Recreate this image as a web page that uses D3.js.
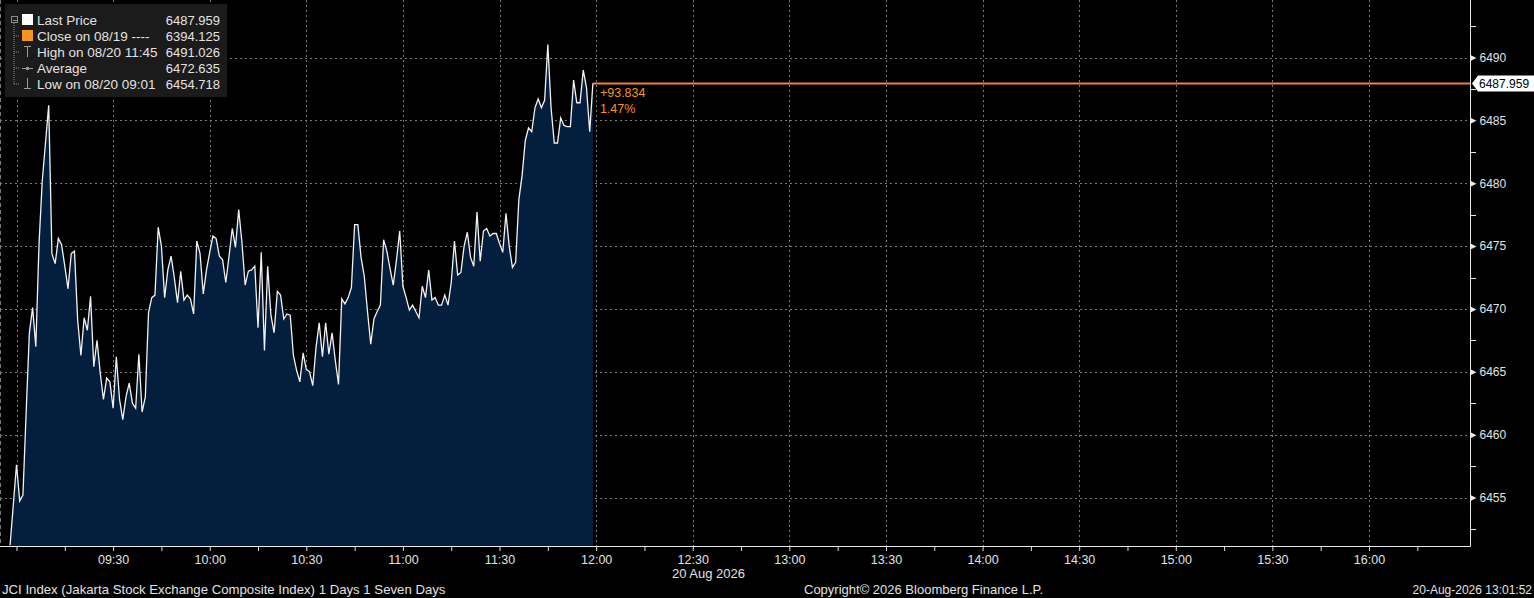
<!DOCTYPE html>
<html lang="en">

<head>
  <meta charset="UTF-8">
  <title>JCI Index</title>
  <style>
    body { margin: 0; background: #000; }
    text { font-family: 'Liberation Sans', Arial, sans-serif; }
  </style>
</head>

<body>
  <svg id="svg" width="1534" height="598"></svg>

  <script src="https://d3js.org/d3.v7.min.js"></script>
  <script>
    // 1-minute prices from 09:00 to 11:59
    const startTime = '09:00'
    const prices = [
      6457.6, 6454.718, 6455.2, 6461.8, 6468.1, 6470.1, 6467.0, 6475.2, 6480.2, 6483.2,
      6486.2, 6474.4, 6473.6, 6475.6, 6475.1, 6473.4, 6471.6, 6474.4, 6474.6, 6469.1,
      6466.3, 6469.3, 6468.3, 6471.0, 6465.4, 6467.5, 6464.9, 6462.8, 6464.5, 6464.2,
      6462.1, 6466.2, 6462.8, 6461.2, 6463.0, 6464.1, 6462.5, 6462.1, 6466.4, 6461.8,
      6463.0, 6469.7, 6470.9, 6471.1, 6476.5, 6475.0, 6470.9, 6473.1, 6474.2, 6472.5,
      6470.5, 6473.0, 6470.7, 6471.1, 6470.8, 6469.6, 6475.4, 6474.4, 6471.2, 6473.1,
      6474.5, 6475.8, 6475.6, 6474.2, 6473.9, 6472.1, 6474.2, 6476.4, 6474.9, 6477.9,
      6475.3, 6471.9, 6473.0, 6473.1, 6473.4, 6468.5, 6474.5, 6466.7, 6473.4, 6469.5,
      6468.1, 6471.4, 6471.1, 6469.2, 6469.6, 6469.5, 6466.3, 6465.1, 6464.2, 6466.5,
      6465.2, 6465.0, 6463.9, 6466.9, 6468.9, 6466.2, 6468.9, 6466.4, 6468.1, 6465.9,
      6464.0, 6470.8, 6470.4, 6470.9, 6471.7, 6476.7, 6476.7, 6474.1, 6472.6, 6469.8,
      6467.2, 6469.2, 6469.8, 6470.3, 6475.5, 6474.6, 6473.2, 6471.9, 6473.9, 6476.2,
      6471.8, 6470.9, 6469.9, 6470.3, 6469.8, 6469.3, 6471.8, 6470.9, 6473.1, 6470.7,
      6470.9, 6470.3, 6470.3, 6471.1, 6470.3, 6472.1, 6475.4, 6472.7, 6472.9, 6475.0,
      6476.1, 6474.1, 6473.4, 6477.7, 6473.8, 6476.2, 6476.4, 6475.8, 6476.0, 6476.0,
      6475.2, 6474.5, 6477.6, 6475.0, 6473.3, 6473.7, 6478.7, 6480.6, 6483.4, 6484.4,
      6484.1, 6486.0, 6486.7, 6486.0, 6486.6, 6491.026, 6486.0, 6483.2, 6483.2, 6485.2,
      6484.6, 6484.5, 6484.5, 6488.2, 6486.4, 6486.4, 6489.0, 6487.6, 6484.1, 6487.959
    ]
    // pre-open print
    const preOpen = { time: '08:58', value: 6451.2 }

    const legendLabels = ['Last Price', 'Close on 08/19 ----', 'High on 08/20 11:45', 'Average', 'Low on 08/20 09:01']
    const legendValues = ['6487.959', '6394.125', '6491.026', '6472.635', '6454.718']
    const lastPrice = 6487.959
    const changeLabels = ['+93.834', '1.47%']
    const yTicks = [6455, 6460, 6465, 6470, 6475, 6480, 6485, 6490]
    const yMinorTicks = [6452.5, 6457.5, 6462.5, 6467.5, 6472.5, 6477.5, 6482.5, 6487.5, 6492.5]
    const xLabels = ['09:30', '10:00', '10:30', '11:00', '11:30', '12:00', '12:30', '13:00',
      '13:30', '14:00', '14:30', '15:00', '15:30', '16:00']
    const dateLabel = '20 Aug 2026'
    const footerLeft = 'JCI Index (Jakarta Stock Exchange Composite Index) 1 Days 1 Seven Days'
    const footerMid = 'Copyright\u00a9 2026 Bloomberg Finance L.P.'
    const footerRight = '20-Aug-2026 13:01:52'

    const parseTime = d3.timeParse('%H:%M')
    const points = [{ time: parseTime(preOpen.time), value: preOpen.value }]
      .concat(prices.map((v, i) => ({ time: d3.timeMinute.offset(parseTime(startTime), i), value: v })))

    const W = 1534, plotRight = 1470, plotBottom = 546
    const textColor = '#e2e2e2'
    const gridColor = '#7a7a7a'
    const orange = '#f7941d'
    const priceLine = '#ee8437'

    const xScale = d3.scaleTime()
      .domain([parseTime('09:00'), parseTime('16:00')])
      .range([16.5, 1369])
    const yScale = d3.scaleLinear()
      .domain([6455, 6490])
      .range([497.5, 57.5])

    const svg = d3.select('#svg')
    svg.append('rect').attr('width', W).attr('height', 598).attr('fill', '#000')

    svg.append('clipPath').attr('id', 'plot')
      .append('rect').attr('x', 0).attr('y', 0).attr('width', plotRight).attr('height', plotBottom)

    // gridlines
    const gridTimes = d3.timeMinute.every(30).range(parseTime('09:00'), parseTime('16:01'))
    svg.append('g')
      .selectAll('line')
      .data(gridTimes)
      .enter()
      .append('line')
      .attr('x1', d => Math.round(xScale(d)) + 0.5)
      .attr('x2', d => Math.round(xScale(d)) + 0.5)
      .attr('y1', 0)
      .attr('y2', plotBottom)
      .attr('stroke', gridColor)
      .attr('stroke-dasharray', '2,3')
    svg.append('g')
      .selectAll('line')
      .data(yTicks)
      .enter()
      .append('line')
      .attr('x1', 0)
      .attr('x2', plotRight)
      .attr('y1', d => Math.round(yScale(d)) + 0.5)
      .attr('y2', d => Math.round(yScale(d)) + 0.5)
      .attr('stroke', gridColor)
      .attr('stroke-dasharray', '2,3')
    svg.append('line')
      .attr('x1', 0.5).attr('x2', 0.5).attr('y1', 0).attr('y2', plotBottom)
      .attr('stroke', gridColor).attr('stroke-dasharray', '4,3')

    // area + line
    const plot = svg.append('g').attr('clip-path', 'url(#plot)')
    plot.append('path')
      .datum(points)
      .attr('d', d3.area().x(d => xScale(d.time)).y0(plotBottom).y1(d => yScale(d.value)))
      .attr('fill', '#041f3d')
    plot.append('path')
      .datum(points)
      .attr('d', d3.line().x(d => xScale(d.time)).y(d => yScale(d.value)))
      .attr('fill', 'none')
      .attr('stroke', '#f2f2f2')
      .attr('stroke-width', 1.3)

    // last price line
    const last = points[points.length - 1]
    const ly = Math.round(yScale(lastPrice)) + 0.5
    svg.append('line')
      .attr('x1', xScale(last.time))
      .attr('x2', plotRight)
      .attr('y1', ly)
      .attr('y2', ly)
      .attr('stroke', priceLine)
      .attr('stroke-width', 1.8)
    svg.append('g')
      .selectAll('text')
      .data(changeLabels)
      .enter()
      .append('text')
      .text(d => d)
      .attr('x', xScale(last.time) + 7)
      .attr('y', (d, i) => ly + 13 + i * 16)
      .attr('fill', orange)
      .style('font-size', '12.5px')

    // x axis
    const xTickTimes = d3.timeMinute.every(15).range(parseTime('09:00'), parseTime('16:16'))
    const fmt = d3.timeFormat('%H:%M')
    const xAxis = svg.append('g')
      .attr('transform', `translate(0,${plotBottom})`)
      .call(d3.axisBottom(xScale)
        .tickValues(xTickTimes)
        .tickSize(5)
        .tickPadding(4)
        .tickFormat(d => xLabels.includes(fmt(d)) ? fmt(d) : ''))
    xAxis.select('.domain').remove()
    xAxis.selectAll('line').attr('stroke', '#ddd')
    xAxis.selectAll('text')
      .attr('fill', textColor)
      .style('font-family', "'Liberation Sans', Arial, sans-serif")
      .style('font-size', '12.5px')
    svg.append('text')
      .text(dateLabel)
      .attr('x', 672)
      .attr('y', 578)
      .attr('fill', textColor)
      .style('font-size', '13px')

    // frame
    svg.append('path')
      .attr('d', d3.line()([[0, plotBottom + 0.5], [plotRight + 0.5, plotBottom + 0.5], [plotRight + 0.5, 0]]))
      .attr('fill', 'none')
      .attr('stroke', '#e8e8e8')

    // y axis
    const yAxis = svg.append('g')
      .attr('transform', `translate(${plotRight + 0.5},0)`)
      .call(d3.axisRight(yScale)
        .tickValues(yTicks)
        .tickSize(0)
        .tickPadding(9)
        .tickFormat(d3.format('d')))
    yAxis.select('.domain').remove()
    yAxis.selectAll('text')
      .attr('fill', textColor)
      .style('font-family', "'Liberation Sans', Arial, sans-serif")
      .style('font-size', '12px')
    yAxis.selectAll('.tick')
      .append('path')
      .attr('d', 'M0,-3L6,0L0,3Z')
      .attr('fill', '#e8e8e8')
    svg.append('g')
      .selectAll('line')
      .data(yMinorTicks)
      .enter()
      .append('line')
      .attr('x1', plotRight)
      .attr('x2', plotRight + 6)
      .attr('y1', d => Math.round(yScale(d)) + 0.5)
      .attr('y2', d => Math.round(yScale(d)) + 0.5)
      .attr('stroke', '#e8e8e8')

    // last price tag
    svg.append('path')
      .attr('d', d3.line()([[plotRight + 2, ly], [plotRight + 8, ly - 8], [W, ly - 8], [W, ly + 8], [plotRight + 8, ly + 8]]) + 'Z')
      .attr('fill', '#fff')
    svg.append('text')
      .text(d3.format('.3f')(lastPrice))
      .attr('x', plotRight + 9)
      .attr('y', ly + 4.5)
      .attr('fill', '#000')
      .style('font-size', '12px')

    // legend
    const legend = svg.append('g')
    legend.append('rect')
      .attr('x', 5).attr('y', 4).attr('width', 222).attr('height', 93)
      .attr('fill', '#1b1b1b')
    const rowY = i => 20 + i * 16
    legend.append('path')
      .attr('d', `M14,${rowY(0) + 3}V${rowY(4)}` + legendLabels.slice(1).map((d, i) => `M14,${rowY(i + 1)}H20`).join(''))
      .attr('stroke', '#8a8a8a')
      .attr('stroke-dasharray', '1,1')
      .attr('fill', 'none')
    legend.append('rect')
      .attr('x', 11.5).attr('y', rowY(0) - 3.5).attr('width', 6).attr('height', 6)
      .attr('fill', '#1b1b1b').attr('stroke', '#8a8a8a')
    legend.append('line')
      .attr('x1', 13).attr('x2', 17).attr('y1', rowY(0) + 0.5).attr('y2', rowY(0) + 0.5)
      .attr('stroke', '#8a8a8a')
    legend.append('rect')
      .attr('x', 22).attr('y', rowY(0) - 6).attr('width', 11).attr('height', 11)
      .attr('fill', '#fff')
    legend.append('rect')
      .attr('x', 22).attr('y', rowY(1) - 6).attr('width', 11).attr('height', 11)
      .attr('fill', orange)
    legend.append('path')
      .attr('d', `M24,${rowY(2) - 5.5}H31M27.5,${rowY(2) - 5.5}V${rowY(2) + 5}` +
        `M22,${rowY(3) + 0.5}H33` +
        `M27.5,${rowY(4) - 6}V${rowY(4) + 4.5}M24,${rowY(4) + 4.5}H31`)
      .attr('stroke', '#9a9a9a')
      .attr('fill', 'none')
    legend.append('circle')
      .attr('cx', 27.5).attr('cy', rowY(3) + 0.5).attr('r', 1.8)
      .attr('fill', '#9a9a9a')
    legend.append('g')
      .selectAll('text')
      .data(legendLabels)
      .enter()
      .append('text')
      .text(d => d)
      .attr('x', 37)
      .attr('y', (d, i) => rowY(i) + 4.5)
      .attr('fill', textColor)
      .style('font-size', '13.5px')
    legend.append('g')
      .selectAll('text')
      .data(legendValues)
      .enter()
      .append('text')
      .text(d => d)
      .attr('x', 220)
      .attr('y', (d, i) => rowY(i) + 4.5)
      .attr('text-anchor', 'end')
      .attr('fill', textColor)
      .style('font-size', '13px')

    // footer
    svg.append('text').text(footerLeft)
      .attr('x', 2).attr('y', 594).attr('fill', textColor).style('font-size', '13.2px')
    svg.append('text').text(footerMid)
      .attr('x', 804).attr('y', 594).attr('fill', textColor).style('font-size', '13px')
    svg.append('text').text(footerRight)
      .attr('x', 1532).attr('y', 594).attr('text-anchor', 'end').attr('fill', textColor).style('font-size', '12px')
  </script>
</body>

</html>
